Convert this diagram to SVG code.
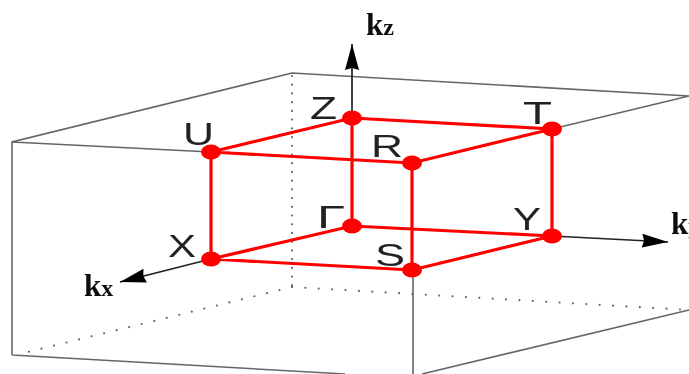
<svg xmlns="http://www.w3.org/2000/svg" width="689" height="374" viewBox="0 0 689 374">
<defs>
<filter id="soft" x="-5%" y="-5%" width="110%" height="110%"><feGaussianBlur stdDeviation="0.5"/></filter>
<marker id="arrow" viewBox="0 0 26 16" refX="26" refY="8" markerUnits="userSpaceOnUse" markerWidth="26" markerHeight="16" orient="auto"><path d="M0 1L26 8L0 15L2 8Z" fill="#000"/></marker>
</defs>
<style>
.box{fill:none;stroke:#666;stroke-width:1.6}
.dot{fill:none;stroke:#666;stroke-width:2.2;stroke-linecap:round}
.edge{fill:none;stroke:#f00;stroke-width:3.2}
.axis{fill:none;stroke:#222;stroke-width:1.7}
.pt{fill:#f00}
.lab{font-family:"Liberation Sans",Arial,sans-serif;font-size:32px;fill:#222}
.kl{font-family:"Liberation Serif","Times New Roman",serif;font-weight:bold;font-size:31px;fill:#111}
.sub{font-size:24px}
</style>
<rect width="689" height="374" fill="#fff"/>
<g filter="url(#soft)">
<g id="box">
<path class="box" d="M12 355V142L292 73L689 96M12 142L211 152M552 129L689 96M12 355L345 374M413 270V374M422 374L689 310"/>
<path class="dot" stroke-dasharray="0 8.72" d="M292 76V287"/>
<path class="dot" stroke-dasharray="0 12.9" d="M292 287L28 352"/>
<path class="dot" stroke-dasharray="0 13.4" d="M292 287L689 310"/>
</g>
<g id="connectors">
<path class="axis" marker-end="url(#arrow)" d="M352 118V44"/>
<path class="axis" marker-end="url(#arrow)" d="M211 259L120 282"/>
<path class="axis" marker-end="url(#arrow)" d="M552 236L668 242"/>
<path class="edge" d="M211 152L352 118L552 129L412 163ZM211 259L352 226L552 236L412 270ZM211 152V259M352 118V226M552 129V236M412 163V270"/>
</g>
<g id="node-U"><ellipse class="pt" cx="211" cy="152" rx="10" ry="7.5"/><text class="lab" x="183" y="145" textLength="31" lengthAdjust="spacingAndGlyphs">U</text></g>
<g id="node-Z"><ellipse class="pt" cx="352" cy="118" rx="10" ry="7.5"/><text class="lab" x="310" y="119" textLength="27" lengthAdjust="spacingAndGlyphs">Z</text></g>
<g id="node-T"><ellipse class="pt" cx="552" cy="129" rx="10" ry="7.5"/><text class="lab" x="523" y="124" textLength="29" lengthAdjust="spacingAndGlyphs">T</text></g>
<g id="node-R"><ellipse class="pt" cx="412" cy="163" rx="10" ry="7.5"/><text class="lab" x="371" y="157" textLength="32" lengthAdjust="spacingAndGlyphs">R</text></g>
<g id="node-X"><ellipse class="pt" cx="211" cy="259" rx="10" ry="7.5"/><text class="lab" x="168" y="257" textLength="28" lengthAdjust="spacingAndGlyphs">X</text></g>
<g id="node-Gamma"><ellipse class="pt" cx="352" cy="226" rx="10" ry="7.5"/><text class="lab" x="317" y="228" textLength="28" lengthAdjust="spacingAndGlyphs">Γ</text></g>
<g id="node-Y"><ellipse class="pt" cx="552" cy="236" rx="10" ry="7.5"/><text class="lab" x="513" y="230" textLength="28" lengthAdjust="spacingAndGlyphs">Y</text></g>
<g id="node-S"><ellipse class="pt" cx="412" cy="270" rx="10" ry="7.5"/><text class="lab" x="375" y="266" textLength="30" lengthAdjust="spacingAndGlyphs">S</text></g>
<g id="label-kz"><text class="kl" x="366" y="35">k<tspan class="sub">z</tspan></text></g>
<g id="label-kx"><text class="kl" x="84" y="296">k<tspan class="sub">x</tspan></text></g>
<g id="label-ky"><text class="kl" x="671" y="234">k<tspan class="sub">y</tspan></text></g>
</g>
</svg>
